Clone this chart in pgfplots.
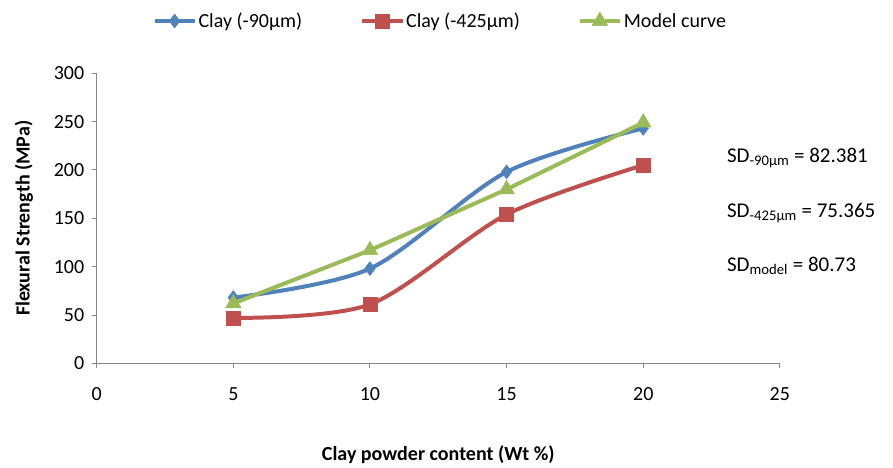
\documentclass[border=0pt]{standalone}
\usepackage{pgfplots}
\pgfplotsset{compat=1.18}
\usepackage{fontspec}
\setmainfont{Carlito}
\definecolor{xlblue}{HTML}{4F81BD}
\definecolor{xlred}{HTML}{C0504D}
\definecolor{xlgreen}{HTML}{9BBB59}
\definecolor{axgray}{HTML}{878787}
\begin{document}
\begin{tikzpicture}[font=\fontsize{20}{24}\selectfont]
\begin{axis}[
  scale only axis,
  width=683pt, height=290pt,
  xmin=0, xmax=25, ymin=0, ymax=300,
  xtick={0,5,...,25}, ytick={0,50,...,300},
  axis x line=bottom, axis y line=left,
  axis line style={axgray, line width=1pt, -},
  tick style={axgray, line width=1pt},
  tick align=outside,
  major tick length=5pt,
  /pgf/number format/assume math mode=true,
  xticklabel style={yshift=-16pt},
  yticklabel style={xshift=-4pt},
  xlabel={\textbf{Clay powder content (Wt \%)}},
  ylabel={\textbf{Flexural Strength (MPa)}},
  xlabel style={yshift=-38pt},
  ylabel style={yshift=14pt},
  clip=false,
  legend columns=3,
  legend style={at={(0.5,1)}, anchor=south, yshift=42pt, xshift=2pt, draw=none,
    inner sep=0pt, nodes={inner sep=2pt},
    /tikz/every even column/.append style={column sep=56pt}},
  legend image code/.code={%
    \draw[mark repeat=2,mark phase=2] plot coordinates {(0pt,0pt) (20pt,0pt) (40pt,0pt)};},
]
\addplot[xlblue, line width=4pt, smooth, tension=0.5,
  mark=diamond*, mark size=7pt, mark options={solid, line width=0.5pt}]
  coordinates {(5,68) (10,98) (15,198) (20,243)};
\addlegendentry{Clay (-90µm)}
\addplot[xlred, line width=4pt, smooth, tension=0.5,
  mark=square*, mark size=7pt, mark options={solid, line width=0.5pt}]
  coordinates {(5,47) (10,61) (15,154) (20,205)};
\addlegendentry{Clay (-425µm)}
\addplot[xlgreen, line width=4pt,
  mark=triangle*, mark size=9pt, mark options={solid, line width=0.5pt}]
  coordinates {(5,62) (10,117) (15,180) (20,249)};
\addlegendentry{Model curve}
\begin{scope}[every node/.style={anchor=west, inner sep=0pt, font=\fontsize{21}{25}\selectfont}]
\node at (axis cs:23.06,212.4) {SD\textsubscript{-90µm} = 82.381};
\node at (axis cs:23.06,155.5) {SD\textsubscript{-425µm} = 75.365};
\node at (axis cs:23.06,100.7) {SD\textsubscript{model} = 80.73};
\end{scope}
\path (axis cs:-3.54,-104.2) rectangle (axis cs:29.14,375.8);
\end{axis}
\end{tikzpicture}
\end{document}
